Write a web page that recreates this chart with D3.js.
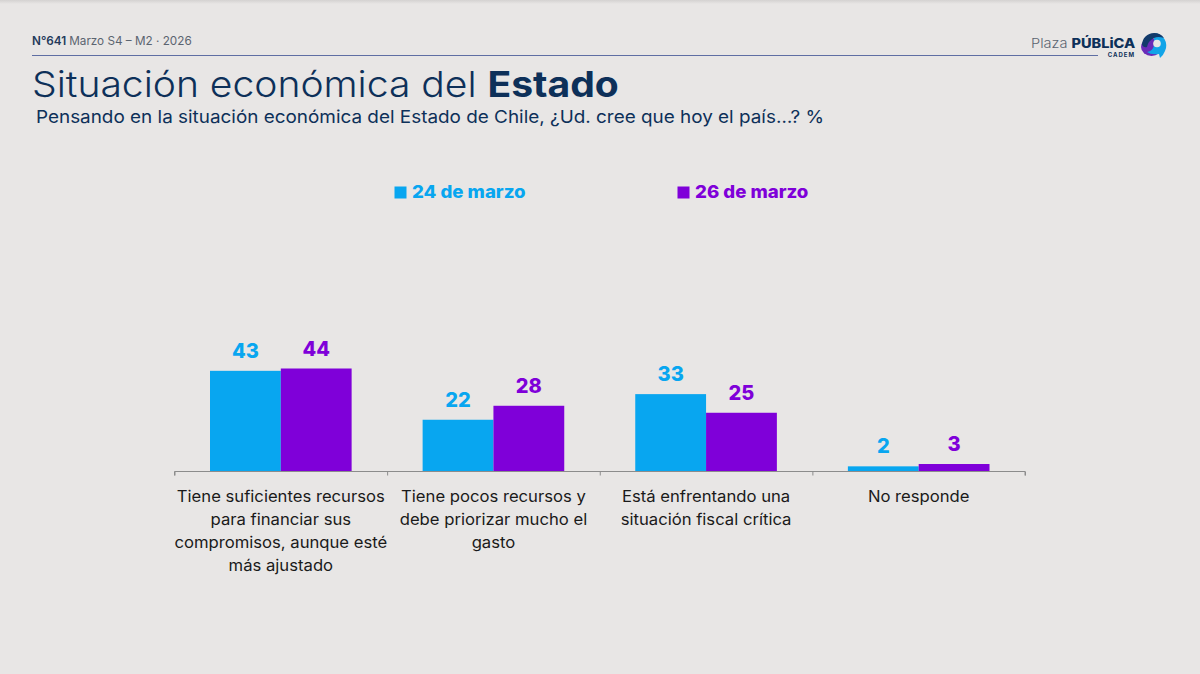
<!DOCTYPE html>
<html>
<head>
<meta charset="utf-8">
<script src="https://cdn.jsdelivr.net/npm/d3@7"></script>
<style>
  html, body { margin: 0; padding: 0; background: #e8e6e5; overflow: hidden; }
  text { font-family: Inter, "Noto Sans", sans-serif; }
</style>
</head>
<body>
<div id="chart"></div>
<script>
var categories = [
    ["Tiene suficientes recursos", "para financiar sus", "compromisos, aunque esté", "más ajustado"],
    ["Tiene pocos recursos y", "debe priorizar mucho el", "gasto"],
    ["Está enfrentando una", "situación fiscal crítica"],
    ["No responde"]
];
var seriesNames = ["24 de marzo", "26 de marzo"];
var seriesColors = ["#08a6f0", "#7f00d9"];
var march24 = [43, 22, 33, 2];
var march26 = [44, 28, 25, 3];

var navy = "#0d3059";
var svgWidth = 1200;
var svgHeight = 674;

var svg = d3.select("#chart")
    .append("svg")
    .attr("width", svgWidth)
    .attr("height", svgHeight);

// the reference font runs wider than Inter, so text is stretched sideways
function place(x, y, stretch) {
    return "translate(" + x + "," + y + ") scale(" + stretch + ",1)";
}

// faint shadow along the top edge
var grad = svg.append("defs").append("linearGradient")
    .attr("id", "topShade").attr("x1", 0).attr("x2", 0).attr("y1", 0).attr("y2", 1);
grad.append("stop").attr("offset", 0).attr("stop-color", "#d4d2d1");
grad.append("stop").attr("offset", 1).attr("stop-color", "#e8e6e5");
svg.append("rect").attr("width", svgWidth).attr("height", 4).attr("fill", "url(#topShade)");

// header
var issue = svg.append("text").attr("transform", place(32, 45, 1.02)).attr("font-size", 11.5).attr("fill", "#5b6470");
issue.append("tspan").attr("font-weight", 600).attr("fill", "#23395a").text("N°641");
issue.append("tspan").attr("dx", 3).text("Marzo S4 – M2 · 2026");

svg.append("line")
    .attr("x1", 32).attr("x2", 1098).attr("y1", 55.5).attr("y2", 55.5)
    .attr("stroke", "#5f6ea3").attr("stroke-width", 1.2);

var title = svg.append("text").attr("transform", place(32, 97, 1.1)).attr("font-size", 35.5).attr("fill", navy);
title.append("tspan").attr("font-weight", 300).text("Situación económica del ");
title.append("tspan").attr("font-weight", 700).text("Estado");

svg.append("text").attr("transform", place(36, 123, 1.08)).attr("font-size", 17.5).attr("fill", navy)
    .text("Pensando en la situación económica del Estado de Chile, ¿Ud. cree que hoy el país…? %");

// logo
var logo = svg.append("g");
var plaza = logo.append("text").attr("transform", place(1031, 48, 1.12)).attr("font-size", 13).attr("fill", "#5b6470");
plaza.append("tspan").attr("font-weight", 300).text("Plaza ");
plaza.append("tspan").attr("font-weight", 800).attr("fill", navy).text("PÚBLiCA");
logo.append("text").attr("x", 1135).attr("y", 57).attr("text-anchor", "end")
    .attr("font-size", 6).attr("font-weight", 700).attr("letter-spacing", 1).attr("fill", navy).text("CADEM");
logo.append("ellipse").attr("cx", 1151.5).attr("cy", 47).attr("rx", 10.5).attr("ry", 9).attr("fill", "#6a2bb8");
logo.append("path").attr("d", "M1154,33a12.5,12.5 0 0 1 11,18q-2,5 -5,7l-1,-4q-8,1 -12,-2q6,-1 7,-7z").attr("fill", "#12a4e8");
logo.append("path").attr("d", "M1142,45a12,12 0 0 1 12,-12a12,12 0 0 1 10,5q-6,-2 -10,0q-6,3 -7,9q-3,1 -5,-2z").attr("fill", "#123a6b");
logo.append("circle").attr("cx", 1157).attr("cy", 43.5).attr("r", 3.8).attr("fill", "#e8e6e5");

// legend
var legendX = [394.5, 677.5];
seriesNames.forEach(function (name, i) {
    svg.append("rect")
        .attr("x", legendX[i]).attr("y", 186.5).attr("width", 12).attr("height", 12)
        .attr("fill", seriesColors[i]);
    svg.append("text")
        .attr("transform", place(legendX[i] + 17.5, 197.5, 1.065))
        .attr("font-size", 17.5).attr("font-weight", 800)
        .attr("fill", seriesColors[i]).text(name);
});

// scales
var baseline = 471;
var x0 = d3.scaleBand()
    .domain(d3.range(categories.length))
    .range([174.5, 1025])
    .paddingInner(0).paddingOuter(0);
var groupPad = 35.5;
var x1 = d3.scaleBand()
    .domain([0, 1])
    .range([groupPad, x0.bandwidth() - groupPad]);
var y = d3.scaleLinear().domain([0, 44]).range([baseline, baseline - 102.5]);

var rows = categories.map(function (c, i) { return { i: i, values: [march24[i], march26[i]] }; });

var groups = svg.selectAll(".group")
    .data(rows)
    .enter()
    .append("g")
    .attr("class", "group")
    .attr("transform", function (d) { return "translate(" + x0(d.i) + ",0)"; });

groups.selectAll("rect")
    .data(function (d) { return d.values; })
    .enter()
    .append("rect")
    .attr("x", function (d, i) { return x1(i); })
    .attr("y", function (d) { return y(d); })
    .attr("width", x1.bandwidth())
    .attr("height", function (d) { return baseline - y(d); })
    .attr("fill", function (d, i) { return seriesColors[i]; });

groups.selectAll(".value")
    .data(function (d) { return d.values; })
    .enter()
    .append("text")
    .attr("class", "value")
    .attr("x", function (d, i) { return x1(i) + x1.bandwidth() / 2; })
    .attr("y", function (d) { return y(d) - 13; })
    .attr("text-anchor", "middle")
    .attr("font-size", 20).attr("font-weight", 800)
    .attr("fill", function (d, i) { return seriesColors[i]; })
    .text(function (d) { return d; });

// axis with ticks at the band edges
var axisScale = d3.scaleLinear().domain([0, categories.length]).range(x0.range());
var axis = svg.append("g")
    .attr("transform", "translate(0," + (baseline + 0.5) + ")")
    .call(d3.axisBottom(axisScale).ticks(categories.length).tickSize(4).tickFormat(""));
axis.selectAll("path, line").attr("stroke", "#8c8c8c").attr("stroke-width", 1);
axis.select(".domain").attr("d", "M174.5,4V0H1025V4");

// category labels
groups.each(function (d) {
    var label = d3.select(this).append("text")
        .attr("transform", place(x0.bandwidth() / 2, 0, 1.075))
        .attr("text-anchor", "middle")
        .attr("font-size", 15.5)
        .attr("fill", "#1a1a1a");
    categories[d.i].forEach(function (line, k) {
        label.append("tspan")
            .attr("x", 0)
            .attr("y", 502 + k * 23)
            .text(line);
    });
});
</script>
</body>
</html>
